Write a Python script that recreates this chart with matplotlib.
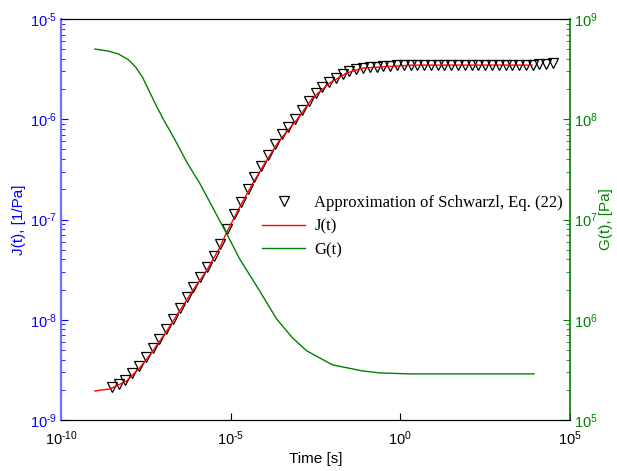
import numpy as np
import matplotlib
matplotlib.use("Agg")
import matplotlib.pyplot as plt
from matplotlib.ticker import FuncFormatter, NullLocator

# J(t) line, log10 values
j_logt = [-9.0, -8.56, -8.06, -7.68, -7.29, -6.88, -6.50, -6.12, -5.71, -5.32,
          -5.12, -4.74, -4.35, -3.94, -3.56, -3.06, -2.59, -2.09, -1.59, -1.12,
          -0.62, 0.35, 3.88]
j_logv = [-8.71, -8.69, -8.61, -8.48, -8.31, -8.11, -7.91, -7.71, -7.51, -7.28,
          -7.13, -6.88, -6.64, -6.41, -6.21, -6.01, -5.79, -5.64, -5.54, -5.49,
          -5.48, -5.46, -5.46]

# G(t) line
g_logt = [-9.0, -8.6, -8.3, -8.0, -7.8, -7.6, -7.4, -7.2, -7.0, -6.65,
          -6.29, -5.91, -5.53, -5.12, -4.74, -4.15, -3.65, -3.18, -2.76, -2.0,
          -1.12, -0.62, 0.26, 3.94]
g_logv = [8.70, 8.68, 8.65, 8.59, 8.52, 8.42, 8.28, 8.14, 8.01, 7.80,
          7.57, 7.36, 7.12, 6.86, 6.61, 6.29, 6.01, 5.82, 5.69, 5.55,
          5.49, 5.47, 5.46, 5.46]

# Schwarzl approximation markers
m_logt = [-8.5, -8.3, -8.1, -7.9, -7.7, -7.5, -7.3, -7.1, -6.9, -6.7,
          -6.5, -6.3, -6.1, -5.9, -5.7, -5.5, -5.3, -5.1, -4.9, -4.7,
          -4.5, -4.3, -4.1, -3.9, -3.7, -3.5, -3.3, -3.1, -2.9, -2.7,
          -2.5, -2.3, -2.1, -1.9, -1.7, -1.5, -1.3, -1.1, -0.9, -0.7,
          -0.5, -0.3, -0.1, 0.1, 0.3, 0.5, 0.7, 0.9, 1.1, 1.3,
          1.5, 1.7, 1.9, 2.1, 2.3, 2.5, 2.7, 2.9, 3.1, 3.3,
          3.5, 3.7, 3.9, 4.1, 4.3, 4.5]
m_logv = [-8.67, -8.64, -8.60, -8.53, -8.46, -8.37, -8.28, -8.19, -8.09, -7.99,
          -7.88, -7.77, -7.67, -7.57, -7.47, -7.36, -7.24, -7.09, -6.95, -6.83,
          -6.70, -6.58, -6.47, -6.36, -6.25, -6.15, -6.08, -6.00, -5.91, -5.82,
          -5.74, -5.68, -5.63, -5.59, -5.55, -5.52, -5.50, -5.49, -5.48, -5.48,
          -5.47, -5.47, -5.46, -5.46, -5.46, -5.46, -5.46, -5.46, -5.46, -5.46,
          -5.46, -5.46, -5.46, -5.46, -5.46, -5.46, -5.46, -5.46, -5.46, -5.46,
          -5.46, -5.46, -5.46, -5.45, -5.45, -5.44]

blue = '#0000ff'
green = '#008000'

plt.rcParams['font.family'] = ['Liberation Sans', 'DejaVu Sans']
plt.rcParams['mathtext.fontset'] = 'custom'
plt.rcParams['mathtext.rm'] = 'Liberation Sans'
plt.rcParams['mathtext.it'] = 'Liberation Sans'


def pow_fmt(v, pos):
    e = int(round(np.log10(v)))
    s = str(e).replace('-', r'\text{-}')
    return r'$10^{%s}$' % s


fig = plt.figure(figsize=(6.17, 4.71), dpi=100)
ax = fig.add_axes([61 / 617, 1 - 420 / 471, 509 / 617, 401 / 471])
ax2 = ax.twinx()

p1, = ax.plot(10 ** np.array(m_logt), 10 ** np.array(m_logv), linestyle='none',
              marker='v', markersize=7, markerfacecolor='none',
              markeredgecolor='black', markeredgewidth=0.9,
              label='Approximation of Schwarzl, Eq. (22)')
p2, = ax.plot(10 ** np.array(j_logt), 10 ** np.array(j_logv), color='red',
              lw=1.0, label='J(t)')
p3, = ax2.plot(10 ** np.array(g_logt), 10 ** np.array(g_logv), color=green,
               lw=1.0, label='G(t)')

ax.set_xscale('log')
ax.set_yscale('log')
ax2.set_yscale('log')
ax.set_xlim(1e-10, 1e5)
ax.set_ylim(1e-9, 1e-5)
ax2.set_ylim(1e5, 1e9)

ax.set_xticks([1e-10, 1e-5, 1e0, 1e5])
ax.xaxis.set_minor_locator(NullLocator())
ax.set_yticks([1e-9, 1e-8, 1e-7, 1e-6, 1e-5])
ax2.set_yticks([1e5, 1e6, 1e7, 1e8, 1e9])
for axis in (ax.xaxis, ax.yaxis, ax2.yaxis):
    axis.set_major_formatter(FuncFormatter(pow_fmt))

ax.tick_params(axis='x', which='both', direction='in', top=False,
               labelsize=10.5, colors='black', length=5, pad=7)
ax.tick_params(axis='y', which='major', direction='in', colors=blue,
               labelsize=10.5, length=5, pad=3)
ax.tick_params(axis='y', which='minor', direction='in', colors=blue, length=3)
ax2.tick_params(axis='y', which='major', direction='in', colors=green,
                labelsize=10.5, length=5, pad=3)
ax2.tick_params(axis='y', which='minor', direction='in', colors=green, length=3)

ax.spines['left'].set_color('#6f6fff')
ax.spines['left'].set_linewidth(1.6)
ax.spines['right'].set_visible(False)
ax2.spines['left'].set_visible(False)
ax2.spines['right'].set_color(green)
ax2.spines['right'].set_linewidth(1.2)
for a in (ax, ax2):
    a.spines['top'].set_color('black')
    a.spines['bottom'].set_color('black')

ax.set_xlabel('Time [s]', fontsize=11)
ax.xaxis.set_label_coords(0.5, -0.08)
ax.set_ylabel('J(t), [1/Pa]', fontsize=11, color=blue)
ax.yaxis.set_label_coords(-0.068, 0.5)
ax2.set_ylabel('G(t), [Pa]', fontsize=11, color=green)
ax2.yaxis.set_label_coords(1.056, 0.5)

ax2.legend(handles=[p1, p2, p3], loc='upper left', frameon=False,
           bbox_to_anchor=(262 / 617, 1 - 195 / 471),
           bbox_transform=fig.transFigure, borderpad=0, borderaxespad=0,
           handlelength=2.6, handletextpad=0.55, labelspacing=0.45,
           numpoints=1, prop={'family': 'Liberation Serif', 'size': 12})

fig.savefig('out.png', dpi=100)
